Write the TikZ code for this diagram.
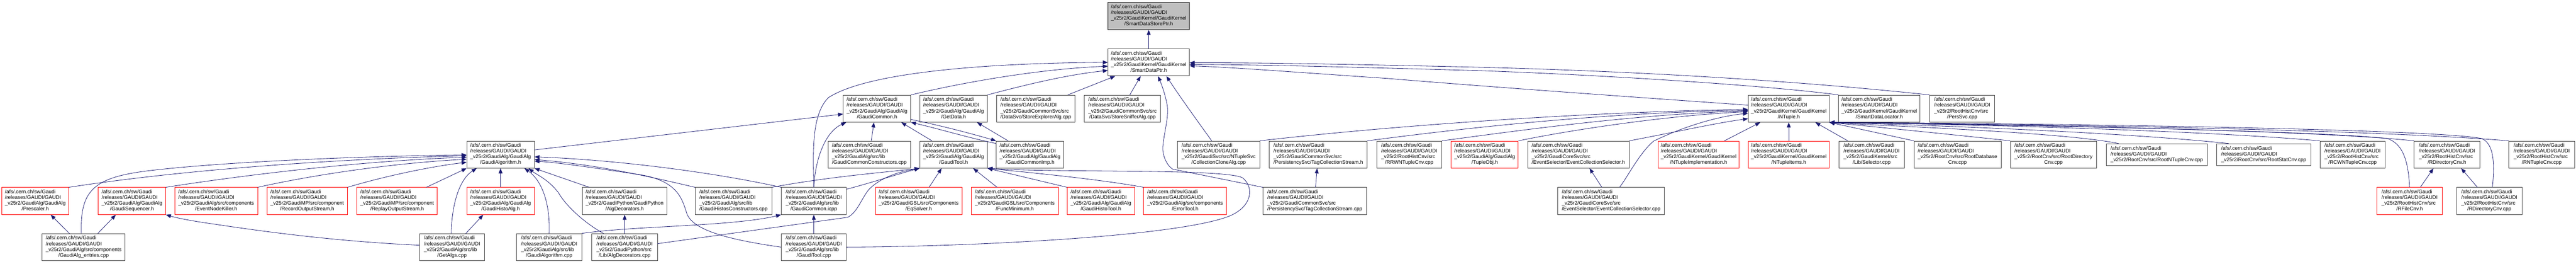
\documentclass[tikz,border=0pt]{standalone}
\usepackage{fontspec}
\setmainfont{Liberation Sans}
\usetikzlibrary{arrows.meta}
\definecolor{edgeblue}{HTML}{191970}
\definecolor{boxgray}{HTML}{404040}
\definecolor{boxfill}{HTML}{BFBFBF}
\newcommand\dxfour[2]{\begin{tabular}{@{}l@{}}/afs/.cern.ch/sw/Gaudi\\/releases/GAUDI/GAUDI\\#1\\\multicolumn{1}{@{}c@{}}{#2}\end{tabular}}
\newcommand\dxthree[1]{\begin{tabular}{@{}l@{}}/afs/.cern.ch/sw/Gaudi\\/releases/GAUDI/GAUDI\\#1\end{tabular}}
\tikzset{
  dx/.style={draw=boxgray, line width=1.2pt, rectangle, minimum height=70pt, inner xsep=6pt, inner ysep=0pt,
             font=\fontsize{13.3}{14.8}\selectfont, text=black, fill=white},
  dxred/.style={dx, draw=red},
  dxtop/.style={dx, draw=black, fill=boxfill},
  dep/.style={draw=edgeblue, line width=1.1pt, -{Triangle[length=13pt,width=10pt]}}
}
\begin{document}
\begin{tikzpicture}[x=1pt,y=-0.99pt]
\useasboundingbox (0,0) rectangle (6685,689.9);
% row 1-2
\node[dxtop, minimum width=211pt] (n1) at (2981,42) {\dxfour{\_v25r2/GaudiKernel/GaudiKernel}{/SmartDataStorePtr.h}};
\node[dx, minimum width=211pt] (n2) at (2981,163) {\dxfour{\_v25r2/GaudiKernel/GaudiKernel}{/SmartDataPtr.h}};
% row 3
\node[dx, minimum width=175pt] (gch) at (2276,284) {\dxfour{\_v25r2/GaudiAlg/GaudiAlg}{/GaudiCommon.h}};
\node[dx, minimum width=175pt] (gd) at (2474.5,284) {\dxfour{\_v25r2/GaudiAlg/GaudiAlg}{/GetData.h}};
\node[dx, minimum width=204pt] (sea) at (2688,284) {\dxfour{\_v25r2/GaudiCommonSvc/src}{/DataSvc/StoreExplorerAlg.cpp}};
\node[dx, minimum width=198pt] (ssa) at (2913,284) {\dxfour{\_v25r2/GaudiCommonSvc/src}{/DataSvc/StoreSnifferAlg.cpp}};
\node[dx, minimum width=210pt] (nt) at (4642,284) {\dxfour{\_v25r2/GaudiKernel/GaudiKernel}{/NTuple.h}};
\node[dx, minimum width=211pt] (sdl) at (4877,284) {\dxfour{\_v25r2/GaudiKernel/GaudiKernel}{/SmartDataLocator.h}};
\node[dx, minimum width=169pt] (pers) at (5092,284) {\dxfour{\_v25r2/RootHistCnv/src}{/PersSvc.cpp}};
% row 4
\node[dx, minimum width=175pt] (ga) at (1299,404) {\dxfour{\_v25r2/GaudiAlg/GaudiAlg}{/GaudiAlgorithm.h}};
\node[dx, minimum width=214pt] (gcc) at (2256,404) {\dxfour{\_v25r2/GaudiAlg/src/lib}{/GaudiCommonConstructors.cpp}};
\node[dx, minimum width=175pt] (gt) at (2474.5,404) {\dxfour{\_v25r2/GaudiAlg/GaudiAlg}{/GaudiTool.h}};
\node[dx, minimum width=175pt] (gci) at (2673,404) {\dxfour{\_v25r2/GaudiAlg/GaudiAlg}{/GaudiCommonImp.h}};
\node[dx, minimum width=213pt] (cca) at (3162.5,404) {\dxfour{\_v25r2/GaudiSvc/src/NTupleSvc}{/CollectionCloneAlg.cpp}};
\node[dx, minimum width=254pt] (tcsh) at (3421,404) {\dxfour{\_v25r2/GaudiCommonSvc/src}{/PersistencySvc/TagCollectionStream.h}};
\node[dx, minimum width=169pt] (rrw) at (3657,404) {\dxfour{\_v25r2/RootHistCnv/src}{/RRWNTupleCnv.cpp}};
\node[dxred, minimum width=174pt] (to) at (3853,404) {\dxfour{\_v25r2/GaudiAlg/GaudiAlg}{/TupleObj.h}};
\node[dx, minimum width=263pt] (ecsh) at (4096,404) {\dxfour{\_v25r2/GaudiCoreSvc/src}{/EventSelector/EventCollectionSelector.h}};
\node[dxred, minimum width=210pt] (nti) at (4408,404) {\dxfour{\_v25r2/GaudiKernel/GaudiKernel}{/NTupleImplementation.h}};
\node[dxred, minimum width=210pt] (ntit) at (4642,404) {\dxfour{\_v25r2/GaudiKernel/GaudiKernel}{/NTupleItems.h}};
\node[dx, minimum width=169pt] (sel) at (4857,404) {\dxfour{\_v25r2/GaudiKernel/src}{/Lib/Selector.cpp}};
\node[dx, minimum width=226pt] (rdb) at (5080,404) {\dxfour{\_v25r2/RootCnv/src/RootDatabase}{Cnv.cpp}};
\node[dx, minimum width=224pt] (rdir) at (5329,404) {\dxfour{\_v25r2/RootCnv/src/RootDirectory}{Cnv.cpp}};
\node[dx, minimum width=262pt, minimum height=56pt] (rnt) at (5597,404) {\dxthree{\_v25r2/RootCnv/src/RootNTupleCnv.cpp}};
\node[dx, minimum width=244pt, minimum height=56pt] (rstat) at (5874.5,404) {\dxthree{\_v25r2/RootCnv/src/RootStatCnv.cpp}};
\node[dx, minimum width=169pt] (rcw) at (6105,404) {\dxfour{\_v25r2/RootHistCnv/src}{/RCWNTupleCnv.cpp}};
\node[dx, minimum width=170pt] (rdh) at (6350,404) {\dxfour{\_v25r2/RootHistCnv/src}{/RDirectoryCnv.h}};
\node[dx, minimum width=170pt] (rntc) at (6596,404) {\dxfour{\_v25r2/RootHistCnv/src}{/RNTupleCnv.cpp}};
% row 5
\node[dxred, minimum width=174pt] (pre) at (91.5,525.5) {\dxfour{\_v25r2/GaudiAlg/GaudiAlg}{/Prescaler.h}};
\node[dxred, minimum width=175pt] (gs) at (342.5,525.5) {\dxfour{\_v25r2/GaudiAlg/GaudiAlg}{/GaudiSequencer.h}};
\node[dxred, minimum width=215pt] (enk) at (561,525.5) {\dxfour{\_v25r2/GaudiAlg/src/components}{/EventNodeKiller.h}};
\node[dxred, minimum width=209pt] (ros) at (797,525.5) {\dxfour{\_v25r2/GaudiMP/src/component}{/RecordOutputStream.h}};
\node[dxred, minimum width=209pt] (rpos) at (1030.5,525.5) {\dxfour{\_v25r2/GaudiMP/src/component}{/ReplayOutputStream.h}};
\node[dxred, minimum width=175pt] (gha) at (1299,525.5) {\dxfour{\_v25r2/GaudiAlg/GaudiAlg}{/GaudiHistoAlg.h}};
\node[dx, minimum width=219pt] (adh) at (1621,525.5) {\dxfour{\_v25r2/GaudiPython/GaudiPython}{/AlgDecorators.h}};
\node[dx, minimum width=199pt] (ghc) at (1903.5,525.5) {\dxfour{\_v25r2/GaudiAlg/src/lib}{/GaudiHistosConstructors.cpp}};
\node[dx, minimum width=169pt] (gcicpp) at (2112,525.5) {\dxfour{\_v25r2/GaudiAlg/src/lib}{/GaudiCommon.icpp}};
\node[dxred, minimum width=225pt] (eqs) at (2384,525.5) {\dxfour{\_v25r2/GaudiGSL/src/Components}{/EqSolver.h}};
\node[dxred, minimum width=226pt] (fm) at (2633.5,525.5) {\dxfour{\_v25r2/GaudiGSL/src/Components}{/FuncMinimum.h}};
\node[dxred, minimum width=175pt] (ght) at (2857,525.5) {\dxfour{\_v25r2/GaudiAlg/GaudiAlg}{/GaudiHistoTool.h}};
\node[dxred, minimum width=215pt] (et) at (3075.5,525.5) {\dxfour{\_v25r2/GaudiAlg/src/components}{/ErrorTool.h}};
\node[dx, minimum width=269pt] (tcsc) at (3412,525.5) {\dxfour{\_v25r2/GaudiCommonSvc/src}{/PersistencySvc/TagCollectionStream.cpp}};
\node[dx, minimum width=277pt] (ecsc) at (4181,525.5) {\dxfour{\_v25r2/GaudiCoreSvc/src}{/EventSelector/EventCollectionSelector.cpp}};
\node[dxred, minimum width=170pt] (rfc) at (6253,525.5) {\dxfour{\_v25r2/RootHistCnv/src}{/RFileCnv.h}};
\node[dx, minimum width=170pt] (rdc) at (6460,525.5) {\dxfour{\_v25r2/RootHistCnv/src}{/RDirectoryCnv.cpp}};
% row 6
\node[dx, minimum width=215pt] (gae) at (217,646) {\dxfour{\_v25r2/GaudiAlg/src/components}{/GaudiAlg\_entries.cpp}};
\node[dx, minimum width=169pt] (gac) at (1173,646) {\dxfour{\_v25r2/GaudiAlg/src/lib}{/GetAlgs.cpp}};
\node[dx, minimum width=169pt] (gacpp) at (1425,646) {\dxfour{\_v25r2/GaudiAlg/src/lib}{/GaudiAlgorithm.cpp}};
\node[dx, minimum width=170pt] (adc) at (1621,646) {\dxfour{\_v25r2/GaudiPython/src}{/Lib/AlgDecorators.cpp}};
\node[dx, minimum width=169pt] (gtc) at (2112,646) {\dxfour{\_v25r2/GaudiAlg/src/lib}{/GaudiTool.cpp}};

% ---- edges into SmartDataStorePtr / SmartDataPtr
\draw[dep] (n2.north) -- (n1.south);
\draw[dep] (gcicpp.north) .. controls (2110,400) and (2105,300) .. (2150,255) .. controls (2250,190) and (2550,165) .. (n2.west);
\draw[dep] (gch.north east) .. controls (2500,215) and (2700,180) .. ([yshift=-10pt]n2.west);
\draw[dep] (gd.north east) .. controls (2660,222) and (2770,195) .. ([yshift=-21pt]n2.west);
\draw[dep] ([xshift=83pt]sea.north) -- ([xshift=-87pt]n2.south);
\draw[dep] ([xshift=19pt]ssa.north) -- ([xshift=-21pt]n2.south);
\draw[dep] (tcsc.north west) -- (3043,442) .. controls (3025,430) and (3015,400) .. (3018,380) .. controls (3022,340) and (3035,300) .. (3028,270) .. controls (3022,240) and (3012,215) .. ([xshift=24pt]n2.south);
\draw[dep] ([xshift=-18pt]cca.north) .. controls (3110,320) and (3060,250) .. ([xshift=46pt]n2.south);
\draw[dep] (pers.north west) .. controls (4700,215) and (4300,188) .. (3850,176) .. controls (3500,168) and (3300,164) .. ([yshift=-1pt]n2.east);
\draw[dep] (sdl.north west) .. controls (4600,225) and (4200,198) .. (3850,185) .. controls (3500,175) and (3300,170) .. ([yshift=-5pt]n2.east);
\draw[dep] ([yshift=9pt]nt.west) .. controls (4300,258) and (3900,230) .. (3600,205) .. controls (3350,188) and (3200,176) .. ([yshift=-9pt]n2.east);
% ---- GaudiCommon.h / GetData.h / GaudiCommonImp.h
\draw[dep] ([yshift=12pt]ga.east) -- ([yshift=-14pt]gch.west);
\draw[dep] (gcicpp.north) .. controls (2115,420) and (2140,345) .. ([xshift=8pt]gch.south west);
\draw[dep] ([xshift=5pt]gcc.north) -- ([xshift=-8pt]gch.south);
\draw[dep] ([xshift=-56pt]gt.north) -- ([xshift=63pt]gch.south);
\draw[dep] ([yshift=-28pt]gch.east) .. controls (2450,330) and (2530,352) .. (gci.north west);
\draw[dep] ([yshift=-7pt]gci.north west) .. controls (2520,362) and (2430,335) .. (gch.south east);
\draw[dep] ([xshift=-57pt]gci.north) -- ([xshift=61pt]gd.south);
% ---- GaudiTool.h
\draw[dep] (ghc.north east) .. controls (2150,462) and (2300,450) .. (gt.south west);
\draw[dep] ([yshift=-5pt]gcicpp.north east) .. controls (2260,478) and (2330,455) .. (gt.south west);
\draw[dep] ([yshift=9pt]adc.east) -- (2200,568) .. controls (2225,555) and (2235,520) .. (2255,495) .. controls (2290,460) and (2340,448) .. (gt.south west);
\draw[dep] ([xshift=27pt]eqs.north) -- ([xshift=-31pt]gt.south);
\draw[dep] ([xshift=-46pt]fm.north) -- ([xshift=51pt]gt.south);
\draw[dep] (gtc.east) .. controls (2500,645) and (3050,620) .. (3190,565) .. controls (3250,540) and (3255,490) .. (3225,465) .. controls (3180,440) and (2750,452) .. (gt.south east);
\draw[dep] (et.north west) .. controls (2850,468) and (2680,452) .. (gt.south east);
\draw[dep] (ght.north west) -- (gt.south east);
% ---- GaudiAlgorithm.h
\draw[dep] (gha.north) -- (ga.south);
\draw[dep] ([xshift=-2pt]gac.north) .. controls (1172,540) and (1190,470) .. ([xshift=-62pt]ga.south);
\draw[dep] ([xshift=76pt]rpos.north) -- (ga.south west);
\draw[dep] (gacpp.north) .. controls (1428,540) and (1410,475) .. ([xshift=62pt]ga.south);
\draw[dep] ([xshift=-55pt]adc.north) .. controls (1520,585) and (1470,540) .. (1450,505) .. controls (1425,470) and (1390,455) .. ([xshift=73pt]ga.south);
\draw[dep] ([xshift=-92pt]adh.north) -- (ga.south east);
\draw[dep] (gcicpp.north west) .. controls (1850,450) and (1600,418) .. ([yshift=-6pt]ga.east);
\draw[dep] (ghc.north west) .. controls (1700,465) and (1550,430) .. ([yshift=-13pt]ga.east);
\draw[dep] (gtc.west) .. controls (1880,625) and (1800,600) .. (1783,560) .. controls (1770,520) and (1760,470) .. (1650,455) .. controls (1550,440) and (1450,425) .. ([yshift=-17pt]ga.east);
\draw[dep] (pre.north east) .. controls (500,440) and (900,415) .. ([yshift=-3pt]ga.west);
\draw[dep] ([xshift=-6pt]gae.north) .. controls (208,500) and (240,465) .. (380,447) .. controls (600,420) and (1000,407) .. ([yshift=-1pt]ga.west);
\draw[dep] (gs.north east) .. controls (650,455) and (950,420) .. ([yshift=-7pt]ga.west);
\draw[dep] (enk.north east) .. controls (800,460) and (1000,428) .. ([yshift=-12pt]ga.west);
\draw[dep] (ros.north east) .. controls (1000,460) and (1120,435) .. ([yshift=-20pt]ga.west);
% ---- lower left
\draw[dep] ([xshift=-37pt]gae.north) -- ([xshift=40pt]pre.south);
\draw[dep] ([xshift=37pt]gae.north) -- ([xshift=-42pt]gs.south);
\draw[dep] ([yshift=5pt]gac.west) .. controls (850,630) and (650,600) .. (550,585) .. controls (500,578) and (460,570) .. (gs.south east);
\draw[dep] ([xshift=36pt]gac.north) -- ([xshift=-45pt]gha.south);
\draw[dep] (adc.north) -- (adh.south);
\draw[dep] (gtc.north) -- (gcicpp.south);
\draw[dep] (gacpp.north east) .. controls (1650,590) and (1900,592) .. (gcicpp.south west);
% ---- NTuple.h
\draw[dep] ([xshift=67pt]nti.north) -- ([xshift=-74pt]nt.south);
\draw[dep] (ntit.north) -- (nt.south);
\draw[dep] ([xshift=-62pt]sel.north) -- ([xshift=69pt]nt.south);
\draw[dep] (cca.north east) .. controls (3600,330) and (4100,293) .. ([yshift=-2pt]nt.west);
\draw[dep] (tcsh.north east) .. controls (3800,335) and (4150,295) .. ([yshift=-4pt]nt.west);
\draw[dep] (rrw.north east) .. controls (3950,340) and (4250,298) .. ([yshift=-6pt]nt.west);
\draw[dep] (to.north east) .. controls (4100,335) and (4350,300) .. ([yshift=-8pt]nt.west);
\draw[dep] ([xshift=22pt]ecsc.north) .. controls (4225,460) and (4255,400) .. (4291,369) .. controls (4360,335) and (4450,305) .. ([yshift=-12pt]nt.west);
\draw[dep] (ecsh.north east) .. controls (4350,345) and (4450,322) .. ([yshift=-26pt]nt.west);
\draw[dep] (rdb.north west) -- (nt.south east);
\draw[dep] (rdir.north west) .. controls (5050,350) and (4850,330) .. (nt.south east);
\draw[dep] ([xshift=-99pt]rnt.north) .. controls (5350,345) and (4900,330) .. (nt.south east);
\draw[dep] ([xshift=-91pt]rstat.north) .. controls (5500,345) and (5000,327) .. (nt.south east);
\draw[dep] (rcw.north west) .. controls (5700,340) and (5100,325) .. (nt.south east);
\draw[dep] (rfc.north) .. controls (6250,420) and (6235,375) .. (6195,362) .. controls (6000,340) and (5100,325) .. (nt.south east);
\draw[dep] (rdh.north west) .. controls (6000,340) and (5200,325) .. (nt.south east);
\draw[dep] ([xshift=8pt]rdc.north) .. controls (6475,420) and (6470,375) .. (6440,362) .. controls (6300,335) and (5200,322) .. (nt.south east);
\draw[dep] (rntc.north west) .. controls (6100,335) and (5200,325) .. (nt.south east);
% ---- small ones
\draw[dep] ([xshift=-24pt]ecsc.north) -- ([xshift=29pt]ecsh.south);
\draw[dep] ([xshift=2pt]tcsc.north) -- ([xshift=-3pt]tcsh.south);
\draw[dep] ([xshift=28pt]rfc.north) -- ([xshift=-35pt]rdh.south);
\draw[dep] ([xshift=-31pt]rdc.north) -- ([xshift=37pt]rdh.south);
\end{tikzpicture}
\end{document}
